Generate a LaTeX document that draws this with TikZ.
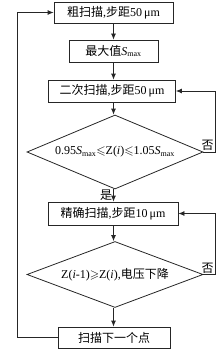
\documentclass[tikz,border=0pt]{standalone}
\usepackage{amssymb}
\usepackage{fontspec}
\setmainfont{Liberation Serif}
\newfontfamily\cjk{Noto Sans CJK SC}
\usetikzlibrary{arrows.meta,shapes.geometric}
\newcommand{\Smx}{\textit{S}\textsubscript{max}}
\begin{document}
\begin{tikzpicture}[x=1pt,y=1pt,
  every node/.style={font=\fontsize{12}{14}\selectfont},
  box/.style={draw=black!85,line width=0.8pt,minimum height=21pt,inner sep=0pt,fill=white},
  dia/.style={draw=black!85,line width=0.8pt,diamond,inner sep=0pt,aspect=2.4},
  arr/.style={draw=black!85,line width=0.8pt,-{Latex[length=6pt,width=5pt]}},
  lab/.style={inner sep=1pt}]
\useasboundingbox (0,0) rectangle (223,-353);
\node[box,minimum width=119pt] (b1) at (113.5,-12.5) {{\cjk 粗扫描},{\cjk 步距}50\,μm};
\node[box,minimum width=89pt,minimum height=22pt] (b2) at (113.5,-51) {{\cjk 最大值}\Smx};
\node[box,minimum width=127pt,minimum height=22pt] (b3) at (112,-91) {{\cjk 二次扫描},{\cjk 步距}50\,μm};
\node[dia,minimum width=176pt,minimum height=74pt] (d1) at (115,-152) {0.95\Smx$\leqslant$Z(\textit{i})$\leqslant$1.05\Smx};
\node[box,minimum width=130pt,minimum height=23pt] (b4) at (113,-213.5) {{\cjk 精确扫描},{\cjk 步距}10\,μm};
\node[dia,minimum width=176pt,minimum height=66pt] (d2) at (115,-274.5) {Z(\textit{i}-1)$\geqslant$Z(\textit{i}),{\cjk 电压下降}};
\node[box,minimum width=112pt] (b5) at (114,-337.5) {{\cjk 扫描下一个点}};
\coordinate (r1) at (215,-152);
\coordinate (r2) at (215,-274.5);
\coordinate (l1) at (17,-337.5);
\node[lab,anchor=south east,inner sep=0.5pt] (n1) at ([xshift=-0.8pt,yshift=0.8pt]r1) {{\cjk 否}};
\node[lab,anchor=south east,inner sep=0.5pt] (n2) at ([xshift=-0.8pt,yshift=0.8pt]r2) {{\cjk 否}};
\draw[arr] (b1.south -| 113.5,0) -- (b2);
\draw[arr] (b2) -- (b3.north -| b2);
\draw[arr] (b3.south -| b2) -- (d1.north -| b2);
\draw[arr] (d1.south -| b2) -- node[lab,left,pos=0.45] {{\cjk 是}} (b4.north -| b2);
\draw[arr] (b4.south -| b2) -- (d2.north -| b2);
\draw[arr] (d2.south -| b2) -- (b5.north -| b2);
\draw[arr] (d1.east) -- (r1) |- (b3.east);
\draw[arr] (d2.east) -- (r2) |- (b4.east);
\draw[arr] (b5.west) -- (l1) |- (b1.west);
\end{tikzpicture}
\end{document}
